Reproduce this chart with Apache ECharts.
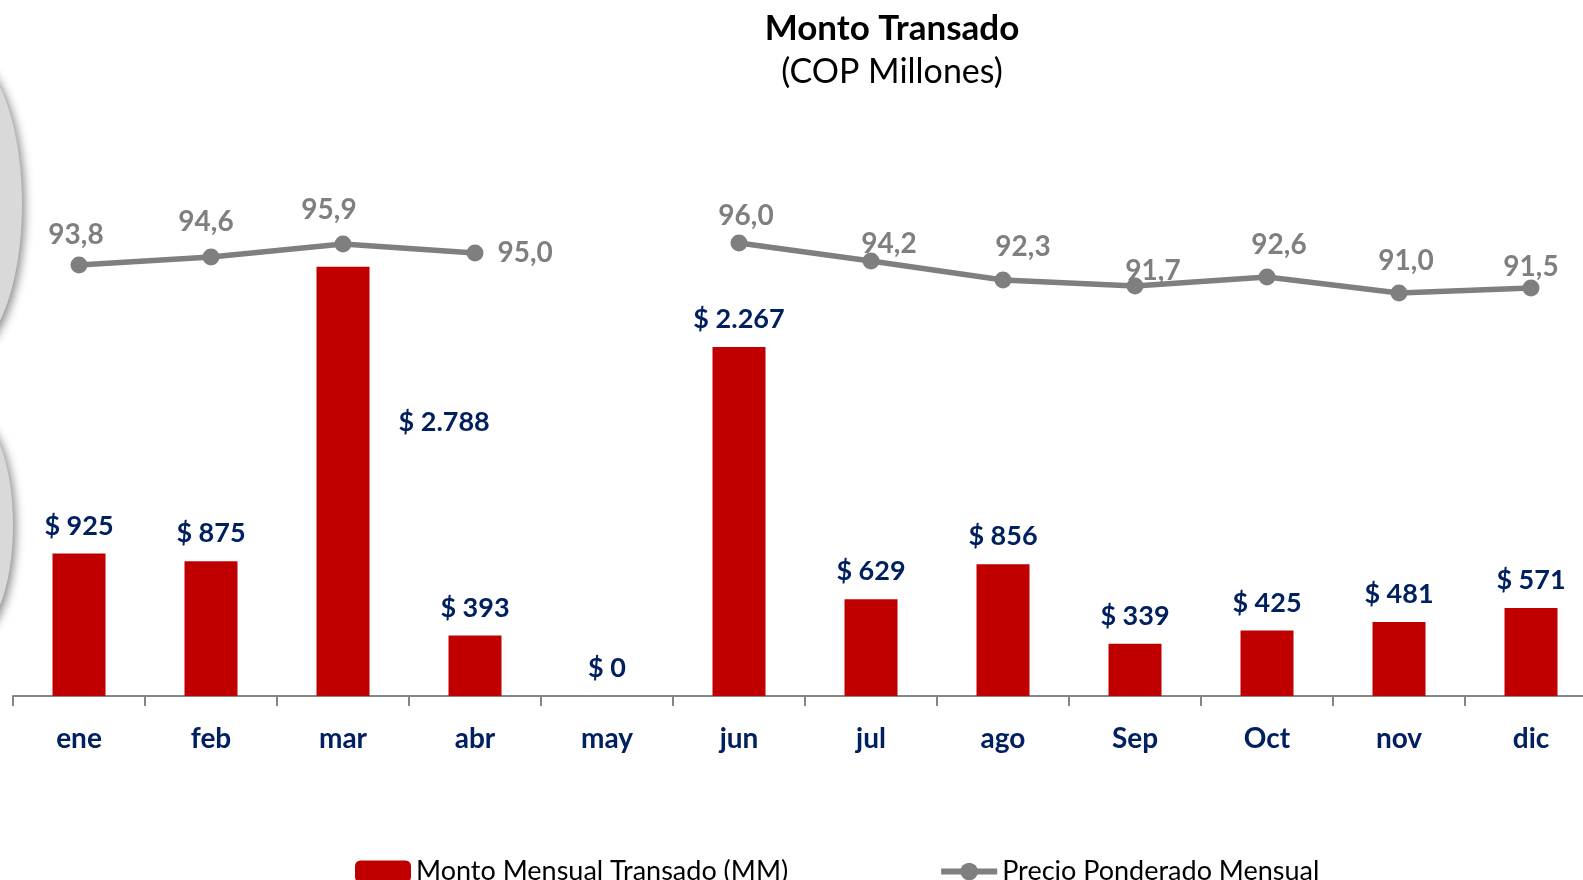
<!DOCTYPE html>
<html>
<head>
<meta charset="utf-8">
<script src="https://cdn.jsdelivr.net/npm/echarts@6/dist/echarts.min.js"></script>
<style>
  html, body { margin: 0; padding: 0; background: #fff; }
  #chart { width: 1583px; height: 880px; }
</style>
</head>
<body>
<div id="chart"></div>
<script>
// data
const months = ['ene', 'feb', 'mar', 'abr', 'may', 'jun', 'jul', 'ago', 'Sep', 'Oct', 'nov', 'dic'];
const montoMensual = [925, 875, 2788, 393, 0, 2267, 629, 856, 339, 425, 481, 571];
const precioPonderado = [93.8, 94.6, 95.9, 95.0, null, 96.0, 94.2, 92.3, 91.7, 92.6, 91.0, 91.5];

const NAVY = '#002060';
const RED = '#C00000';
const GREY = '#7F7F7F';
const FONT = 'Lato, "Open Sans", sans-serif';

// label nudges for the price line (dx, dy)
const lineLabelNudge = [
  [-3, -3], [-5, -8], [-14, -7], null, null,
  [7, 0], [18, 10], [20, -6], [18, 12], [12, -5], [7, -5], [0, 6]
];

const fmtMoney = v => '$ ' + String(v).replace(/\B(?=(\d{3})+(?!\d))/g, '.');
const fmtPrice = v => v.toFixed(1).replace('.', ',');

const barData = montoMensual.map((v, i) => {
  if (months[i] === 'mar') {
    return { value: v, label: { position: 'right', distance: 5, offset: [24, -59] } };
  }
  return v;
});

const lineData = precioPonderado.map((v, i) => {
  if (v === null) return null;
  if (months[i] === 'abr') {
    return { value: v, label: { position: 'right', distance: 14, offset: [0, 0] } };
  }
  const n = lineLabelNudge[i] || [0, 0];
  return { value: v, label: { offset: n } };
});

const chart = echarts.init(document.getElementById('chart'));

chart.setOption({
  backgroundColor: '#fff',
  animation: false,
  title: [
    {
      text: 'Monto Transado',
      left: 887, top: 6, textAlign: 'center',
      textStyle: { fontFamily: FONT, fontSize: 35, fontWeight: 'bold', color: '#000' }
    },
    {
      text: '(COP Millones)',
      left: 887, top: 50, textAlign: 'center',
      textStyle: { fontFamily: FONT, fontSize: 34, fontWeight: 'normal', color: '#000' }
    }
  ],
  graphic: [
    {
      type: 'ellipse', z: -1,
      shape: { cx: -37, cy: 204, rx: 59, ry: 150 },
      style: { fill: '#D9D9D9', shadowBlur: 10, shadowColor: 'rgba(0,0,0,0.45)', shadowOffsetX: 3, shadowOffsetY: 3 }
    },
    {
      type: 'ellipse', z: -1,
      shape: { cx: -28, cy: 525, rx: 41, ry: 110 },
      style: { fill: '#D9D9D9', shadowBlur: 10, shadowColor: 'rgba(0,0,0,0.45)', shadowOffsetX: 3, shadowOffsetY: 3 }
    }
  ],
  legend: {
    left: 350, top: 853,
    itemWidth: 56, itemHeight: 22, itemGap: 150,
    textStyle: { fontFamily: FONT, fontSize: 27, color: '#000' },
    lineStyle: { width: 6 },
    data: ['Monto Mensual Transado (MM)', 'Precio Ponderado Mensual']
  },
  grid: { left: 13, top: 80, width: 1584, height: 616, outerBoundsMode: 'none', containLabel: false },
  xAxis: {
    type: 'category',
    data: months,
    axisLine: { lineStyle: { color: '#868686', width: 2 } },
    axisTick: { show: true, length: 10, lineStyle: { color: '#868686', width: 2 } },
    axisLabel: { margin: 29, fontFamily: FONT, fontSize: 28, fontWeight: 'bold', color: NAVY }
  },
  yAxis: [
    { type: 'value', min: 0, max: 4000, show: false, splitLine: { show: false } },
    { type: 'value', min: 50.7, max: 112.3, show: false, splitLine: { show: false } }
  ],
  series: [
    {
      name: 'Monto Mensual Transado (MM)',
      type: 'bar',
      yAxisIndex: 0,
      barWidth: 53,
      itemStyle: { color: RED },
      data: barData,
      label: {
        show: true, position: 'top', distance: 14,
        fontFamily: FONT, fontSize: 27, fontWeight: 'bold', color: NAVY,
        formatter: p => fmtMoney(p.value)
      }
    },
    {
      name: 'Precio Ponderado Mensual',
      type: 'line',
      yAxisIndex: 1,
      data: lineData,
      connectNulls: false,
      symbol: 'circle',
      symbolSize: 17,
      itemStyle: { color: GREY },
      lineStyle: { color: GREY, width: 5.5 },
      label: {
        show: true, position: 'top', distance: 5,
        fontFamily: FONT, fontSize: 28, fontWeight: 'bold', color: GREY,
        formatter: p => fmtPrice(p.value)
      },
      z: 3
    }
  ]
});
</script>
</body>
</html>
